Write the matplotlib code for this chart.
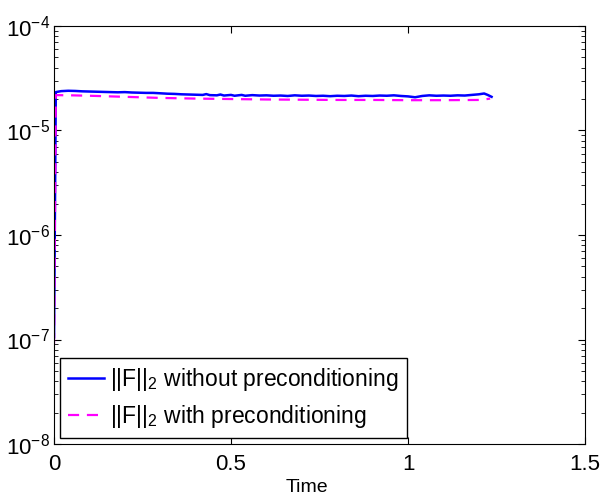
import matplotlib
matplotlib.use("Agg")
import matplotlib.pyplot as plt
import numpy as np

plt.rcParams['font.family'] = ['Liberation Sans', 'DejaVu Sans']
plt.rcParams['mathtext.fontset'] = 'custom'
plt.rcParams['mathtext.rm'] = 'Liberation Sans'
plt.rcParams['mathtext.it'] = 'Liberation Sans'
plt.rcParams['mathtext.bf'] = 'Liberation Sans'

# residual norm history, no preconditioner
t_plain = [0.0, 0.005, 0.02, 0.04, 0.06, 0.08, 0.10, 0.12, 0.14, 0.16, 0.18,
           0.20, 0.22, 0.24, 0.26, 0.28, 0.30, 0.32, 0.34, 0.36, 0.38, 0.40,
           0.42, 0.43, 0.44, 0.46, 0.47, 0.48, 0.50, 0.51, 0.53, 0.54, 0.56,
           0.58, 0.60, 0.62, 0.64, 0.66, 0.68, 0.70, 0.72, 0.74, 0.76, 0.78,
           0.80, 0.82, 0.84, 0.86, 0.88, 0.90, 0.92, 0.94, 0.96, 0.98, 1.00,
           1.02, 1.04, 1.06, 1.08, 1.10, 1.12, 1.14, 1.16, 1.18, 1.20, 1.215,
           1.225, 1.236]
F_plain = [1.05e-7, 2.33e-5, 2.38e-5, 2.40e-5, 2.39e-5, 2.37e-5, 2.36e-5,
           2.35e-5, 2.34e-5, 2.33e-5, 2.32e-5, 2.33e-5, 2.31e-5, 2.30e-5,
           2.29e-5, 2.29e-5, 2.27e-5, 2.25e-5, 2.24e-5, 2.22e-5, 2.21e-5,
           2.20e-5, 2.19e-5, 2.23e-5, 2.18e-5, 2.17e-5, 2.21e-5, 2.16e-5,
           2.19e-5, 2.15e-5, 2.19e-5, 2.15e-5, 2.18e-5, 2.16e-5, 2.17e-5,
           2.15e-5, 2.16e-5, 2.14e-5, 2.17e-5, 2.15e-5, 2.16e-5, 2.14e-5,
           2.15e-5, 2.13e-5, 2.15e-5, 2.14e-5, 2.16e-5, 2.13e-5, 2.15e-5,
           2.14e-5, 2.16e-5, 2.15e-5, 2.17e-5, 2.14e-5, 2.12e-5, 2.08e-5,
           2.14e-5, 2.17e-5, 2.15e-5, 2.16e-5, 2.15e-5, 2.17e-5, 2.16e-5,
           2.19e-5, 2.22e-5, 2.26e-5, 2.19e-5, 2.10e-5]

# residual norm history, preconditioned
t_prec = [0.0, 0.005, 0.05, 0.10, 0.20, 0.30, 0.40, 0.50, 0.60, 0.70, 0.80,
          0.90, 1.00, 1.10, 1.20, 1.215, 1.232]
F_prec = [9.0e-8, 2.18e-5, 2.17e-5, 2.15e-5, 2.10e-5, 2.05e-5, 2.02e-5,
          2.00e-5, 1.98e-5, 1.97e-5, 1.96e-5, 1.96e-5, 1.95e-5, 1.95e-5,
          1.96e-5, 1.98e-5, 2.02e-5]

fig = plt.figure(figsize=(6.05, 4.97), dpi=100)
ax = fig.add_axes([0.0893, 0.1066, 0.8777, 0.8411])

ax.semilogy(t_plain, F_plain, color='#0000ff', lw=1.8,
            label=r'$\mathrm{||F||}_{\mathrm{2}}$ without preconditioning')
ax.semilogy(t_prec, F_prec, color='#ff00ff', lw=1.6, dashes=(5, 3.5),
            label=r'$\mathrm{||F||}_{\mathrm{2}}$ with preconditioning')

ax.set_xlim(0, 1.5)
ax.set_ylim(1e-8, 1e-4)
ax.set_xticks([0, 0.5, 1, 1.5])
ax.set_xticklabels(['0', '0.5', '1', '1.5'])
ax.set_xlabel('Time', fontsize=14, va='top')
ax.xaxis.set_label_coords(0.477, -0.084)

ax.tick_params(which='both', direction='in', top=True, right=True,
               labelsize=16)
ax.tick_params(axis='x', pad=7)
ax.tick_params(axis='y', pad=3)
ax.tick_params(which='major', length=5)
ax.tick_params(which='minor', length=3)
for s in ax.spines.values():
    s.set_linewidth(0.8)

leg = ax.legend(loc='lower left', fontsize=16.5, fancybox=False,
                edgecolor='k', framealpha=1, borderaxespad=0.25,
                handlelength=1.6, handletextpad=0.25, labelspacing=0.45,
                borderpad=0.35)
leg.get_frame().set_linewidth(1.0)

fig.savefig('out.png', dpi=100)
